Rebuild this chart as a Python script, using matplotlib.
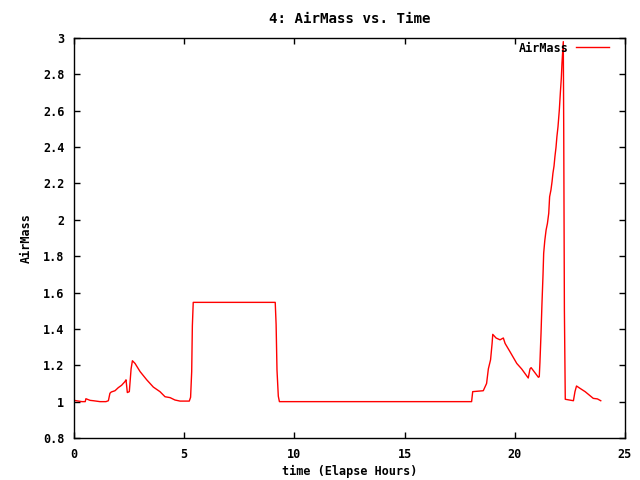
import numpy as np
import matplotlib.pyplot as plt

# elapsed hours vs airmass
hours = [0.0, 0.36, 0.51, 0.54, 0.73, 0.88, 1.18, 1.45, 1.56, 1.63, 1.69, 1.86,
         2.01, 2.16, 2.31, 2.36, 2.42, 2.51, 2.59, 2.65, 2.77, 3.0, 3.3, 3.6,
         3.9, 4.13, 4.36, 4.58, 4.81, 5.23, 5.29, 5.34, 5.37, 5.41, 9.13, 9.17,
         9.21, 9.27, 9.32, 18.04, 18.09, 18.57, 18.72, 18.8, 18.9, 18.97, 19.0,
         19.15, 19.33, 19.48, 19.56, 19.78, 20.09, 20.31, 20.61, 20.69, 20.74,
         21.07, 21.11, 21.14, 21.19, 21.23, 21.28, 21.31, 21.36, 21.42, 21.48,
         21.54, 21.58, 21.64, 21.69, 21.73, 21.78, 21.82, 21.87, 21.91, 21.96,
         22.02, 22.07, 22.11, 22.14, 22.2, 22.22, 22.25, 22.29, 22.66, 22.73,
         22.8, 22.96, 23.19, 23.41, 23.56, 23.75, 23.9]
airmass = [1.007, 1.0, 1.0, 1.016, 1.007, 1.005, 1.0, 1.0, 1.005, 1.046, 1.053,
           1.06, 1.077, 1.09, 1.11, 1.12, 1.05, 1.055, 1.18, 1.225, 1.21, 1.165,
           1.12, 1.08, 1.055, 1.027, 1.022, 1.009, 1.003, 1.003, 1.024, 1.165,
           1.416, 1.546, 1.546, 1.425, 1.174, 1.03, 1.0, 1.0, 1.055, 1.06, 1.1,
           1.18, 1.23, 1.32, 1.37, 1.35, 1.34, 1.35, 1.32, 1.275, 1.21, 1.18,
           1.13, 1.18, 1.187, 1.134, 1.137, 1.214, 1.376, 1.53, 1.697, 1.816,
           1.885, 1.944, 1.98, 2.036, 2.127, 2.164, 2.21, 2.256, 2.296, 2.347,
           2.399, 2.457, 2.512, 2.604, 2.705, 2.778, 2.86, 2.98, 2.494, 1.504,
           1.013, 1.005, 1.055, 1.086, 1.073, 1.055, 1.033, 1.018, 1.015, 1.005]

xticks = [0, 5, 10, 15, 20, 25]
yticks = [0.8, 1.0, 1.2, 1.4, 1.6, 1.8, 2.0, 2.2, 2.4, 2.6, 2.8, 3.0]
ylabels = ['0.8', '1', '1.2', '1.4', '1.6', '1.8', '2', '2.2', '2.4', '2.6', '2.8', '3']

plt.rcParams['font.family'] = 'DejaVu Sans Mono'
plt.rcParams['font.size'] = 8.5
plt.rcParams['font.weight'] = 'bold'
plt.rcParams['axes.labelweight'] = 'bold'
plt.rcParams['axes.titleweight'] = 'bold'

fig = plt.figure(figsize=(6.4, 4.8), dpi=100)
ax = fig.add_axes([74 / 640, 42 / 480, 551 / 640, 400 / 480])

ax.plot(hours, airmass, color='red', linewidth=1, label='AirMass')

ax.set_xlim(0, 25)
ax.set_ylim(0.8, 3.0)
ax.set_xticks(xticks)
ax.set_yticks(yticks)
ax.set_yticklabels(ylabels)
ax.tick_params(direction='in', length=4, width=1, top=True, right=True, pad=7)
for s in ax.spines.values():
    s.set_linewidth(1)

ax.set_xlabel('time (Elapse Hours)', labelpad=3)
ax.set_ylabel('AirMass', labelpad=7)
ax.set_title('4: AirMass vs. Time', pad=11)

leg = ax.legend(loc='upper right', frameon=False, markerfirst=False,
                bbox_to_anchor=(0.977, 1.0), borderaxespad=0, borderpad=0.3,
                handlelength=2.8, handletextpad=0.6)
for t in leg.get_texts():
    t.set_fontweight('bold')

fig.savefig('out.png', dpi=100)
